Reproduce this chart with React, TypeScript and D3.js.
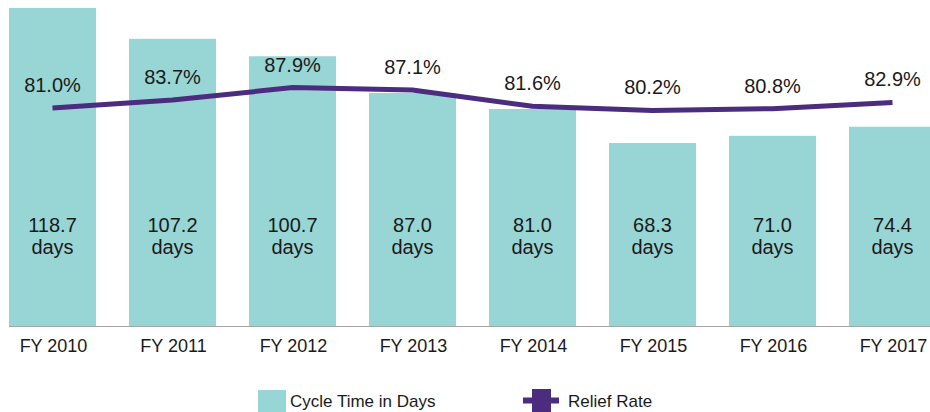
import React from 'react'
import * as d3 from 'd3'

const years = ['FY 2010', 'FY 2011', 'FY 2012', 'FY 2013', 'FY 2014', 'FY 2015', 'FY 2016', 'FY 2017']
const cycleDays = [118.7, 107.2, 100.7, 87.0, 81.0, 68.3, 71.0, 74.4]
const reliefRate = [81.0, 83.7, 87.9, 87.1, 81.6, 80.2, 80.8, 82.9]

const W = 930
const H = 412
const BAR = '#98d5d5'
const PURPLE = '#4b2c7e'
const TEXT = '#1a1a1a'
const FONT = '"Liberation Sans", Arial, sans-serif'

export default function App() {
    const x = d3.scaleBand<string>()
        .domain(years)
        .range([-7.5, 952.5])
        .paddingInner(0.275)
        .paddingOuter(0.1375)

    // bars
    const y = d3.scaleLinear().domain([0, 121.7]).range([326, 0])
    // relief rate, secondary scale
    const y2 = d3.scaleLinear().domain([0, 100]).range([347.8, 51.8])

    const cx = (d: string) => (x(d) as number) + x.bandwidth() / 2

    const line = d3.line<number>()
        .x((d, i) => cx(years[i]))
        .y(d => y2(d))

    return (
        <svg width={W} height={H} style={{ position: 'absolute', left: 0, top: 0 }} fontFamily={FONT}>
            <rect width={W} height={H} fill="#fff" />
            {years.map((d, i) => (
                <rect key={d} x={x(d)} y={y(cycleDays[i])} width={x.bandwidth()}
                    height={y(0) - y(cycleDays[i])} fill={BAR} />
            ))}
            <line x1={9} x2={W} y1={326.5} y2={326.5} stroke="#a6a6a6" strokeWidth={1} />

            {years.map((d, i) => (
                <g key={d} fill={TEXT} textAnchor="middle">
                    <text x={cx(d)} y={232} fontSize={20}>{cycleDays[i].toFixed(1)}</text>
                    <text x={cx(d)} y={254} fontSize={20}>days</text>
                    <text x={cx(d) + 1} y={352} fontSize={18}>{d}</text>
                </g>
            ))}

            <path d={line(reliefRate) || ''} fill="none" stroke={PURPLE} strokeWidth={5} />
            {reliefRate.map((v, i) => (
                <text key={i} x={cx(years[i])} y={y2(v) - 16} fontSize={20} fill={TEXT}
                    textAnchor="middle">{v.toFixed(1)}%</text>
            ))}

            {/* legend */}
            <rect x={258} y={390} width={28} height={22} fill={BAR} />
            <text x={290} y={407} fontSize={17} fill={TEXT}>Cycle Time in Days</text>
            <line x1={523} x2={559} y1={400.5} y2={400.5} stroke={PURPLE} strokeWidth={6} />
            <rect x={532} y={389} width={19} height={23} fill={PURPLE} />
            <text x={568} y={407} fontSize={17} fill={TEXT}>Relief Rate</text>
        </svg>
    )
}
